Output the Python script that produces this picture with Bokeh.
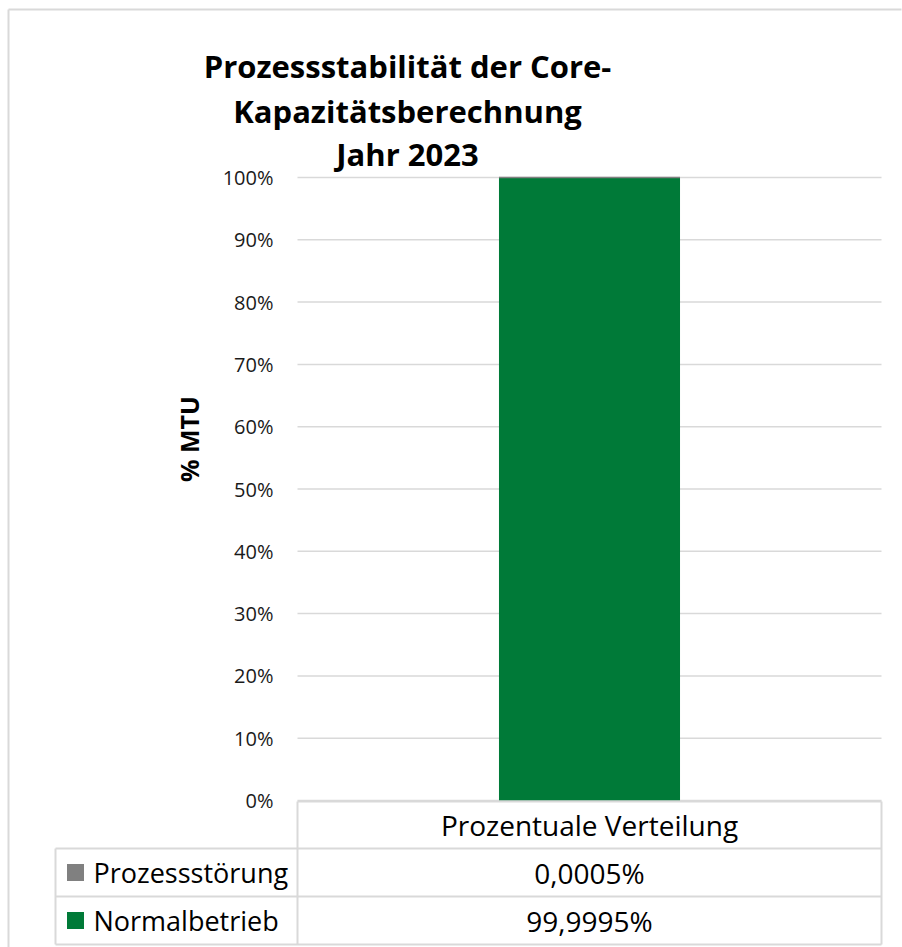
import math
from bokeh.plotting import figure
from bokeh.models import Range1d, ColumnDataSource
from bokeh.core.properties import value
from bokeh.embed import file_html
from bokeh.resources import INLINE

# ---------------- data ----------------
title_lines = ["Prozessstabilität der Core-", "Kapazitätsberechnung", "Jahr 2023"]
y_axis_title = "% MTU"
y_ticks = [0.0, 0.1, 0.2, 0.3, 0.4, 0.5, 0.6, 0.7, 0.8, 0.9, 1.0]
y_tick_labels = ["0%", "10%", "20%", "30%", "40%", "50%", "60%", "70%", "80%", "90%", "100%"]
categories = ["Prozentuale Verteilung"]
series_names = ["Prozessstörung", "Normalbetrieb"]
series_values = [[0.000005], [0.999995]]          # fractions of MTU
series_value_labels = ["0,0005%", "99,9995%"]
series_colors = ["#808080", "#007A38"]

FONT = value("Open Sans")
GRID = "#D9D9D9"

# ---------------- geometry (page px -> data) ----------------
W, H = 902, 947
PX_L, PX_R = 297.0, 881.0      # plot area left/right (page px)
PY_T, PY_B = 177.0, 800.0      # y=1 / y=0 (page px)
SX = PX_R - PX_L
SY = PY_B - PY_T


def fx(px):
    return (px - PX_L) / SX


def fy(py):
    return (PY_B - py) / SY


p = figure(width=W, height=H, output_backend="svg", toolbar_location=None,
           x_range=Range1d(fx(0), fx(W)), y_range=Range1d(fy(H), fy(0)),
           min_border=0, min_border_left=0, min_border_right=0,
           min_border_top=0, min_border_bottom=0)
p.axis.visible = False
p.grid.visible = False
p.outline_line_color = None
p.outline_line_alpha = 0
p.background_fill_color = "white"
p.border_fill_color = "white"

# chart border (top and left visible)
p.segment(x0=[fx(8), fx(8)], y0=[fy(9), fy(9)], x1=[fx(W - 1), fx(8)], y1=[fy(9), fy(H)],
          line_color=GRID, line_width=2)

# gridlines
n_cat = len(categories)
p.segment(x0=[0] * len(y_ticks), x1=[n_cat] * len(y_ticks), y0=y_ticks, y1=y_ticks,
          line_color=GRID, line_width=1.5)

# tick labels
p.text(x=[fx(273)] * len(y_ticks), y=y_ticks, text=y_tick_labels,
       text_font=FONT, text_font_size="20px", text_color="#1a1a1a",
       text_align="right", text_baseline="middle")

# stacked bars
cat_x = [i + 0.5 for i in range(n_cat)]
bottom = [0.0] * n_cat
for vals, col in zip(series_values[::-1], series_colors[::-1]):
    top = [b + v for b, v in zip(bottom, vals)]
    p.vbar(x=cat_x, width=0.31, bottom=bottom, top=top, fill_color=col, line_color=None)
    bottom = top
# thin visible edge for the tiny series on top (as Excel renders it)
p.segment(x0=[c - 0.155 for c in cat_x], x1=[c + 0.155 for c in cat_x], y0=bottom, y1=bottom,
          line_color=series_colors[0], line_width=1.5)

# y axis title
p.text(x=[fx(188.5)], y=[fy(438.5)], text=[y_axis_title], angle=math.pi / 2,
       text_font=FONT, text_font_size="25px", text_font_style="bold", text_color="black",
       text_align="center", text_baseline="middle")

# chart title
title_baselines = [65, 110, 153]
p.text(x=[fx(407)] * len(title_lines), y=[fy(b) for b in title_baselines], text=title_lines,
       text_font=FONT, text_font_size="31px", text_font_style="bold", text_color="black",
       text_align="center", text_baseline="alphabetic")

# ---------------- data table ----------------
row_py = [801, 848, 896, 944]
tab_left = fx(55)
# header top line (category column only)
p.segment(x0=[0], x1=[n_cat], y0=[fy(row_py[0])], y1=[fy(row_py[0])], line_color=GRID, line_width=2)
# horizontal row lines
p.segment(x0=[tab_left] * 3, x1=[n_cat] * 3, y0=[fy(r) for r in row_py[1:]],
          y1=[fy(r) for r in row_py[1:]], line_color=GRID, line_width=2)
# vertical lines
p.segment(x0=[tab_left, 0, n_cat], x1=[tab_left, 0, n_cat],
          y0=[fy(row_py[1]), fy(row_py[0]), fy(row_py[0])],
          y1=[fy(row_py[-1])] * 3, line_color=GRID, line_width=2)

# header text
p.text(x=cat_x, y=[fy((row_py[0] + row_py[1]) / 2)] * n_cat, text=categories,
       text_font=FONT, text_font_size="28px", text_color="black",
       text_align="center", text_baseline="middle")

row_centers = [fy((row_py[i] + row_py[i + 1]) / 2) for i in (1, 2)]
# value cells
p.text(x=[cat_x[0]] * len(series_names), y=row_centers, text=series_value_labels,
       text_font=FONT, text_font_size="28px", text_color="black",
       text_align="center", text_baseline="middle")
# legend keys
src = ColumnDataSource(dict(x=[fx(75)] * len(series_names), y=row_centers, c=series_colors))
p.scatter(x="x", y="y", source=src, marker="square", size=17, fill_color="c", line_color=None)
p.text(x=[fx(93)] * len(series_names), y=row_centers, text=series_names,
       text_font=FONT, text_font_size="27px", text_color="black",
       text_align="left", text_baseline="middle")

html = file_html(p, INLINE)
html = html.replace("<head>", "<head><style>html,body{overflow:hidden;background:#ffffff;}</style>", 1)
open("out.html", "w").write(html)
